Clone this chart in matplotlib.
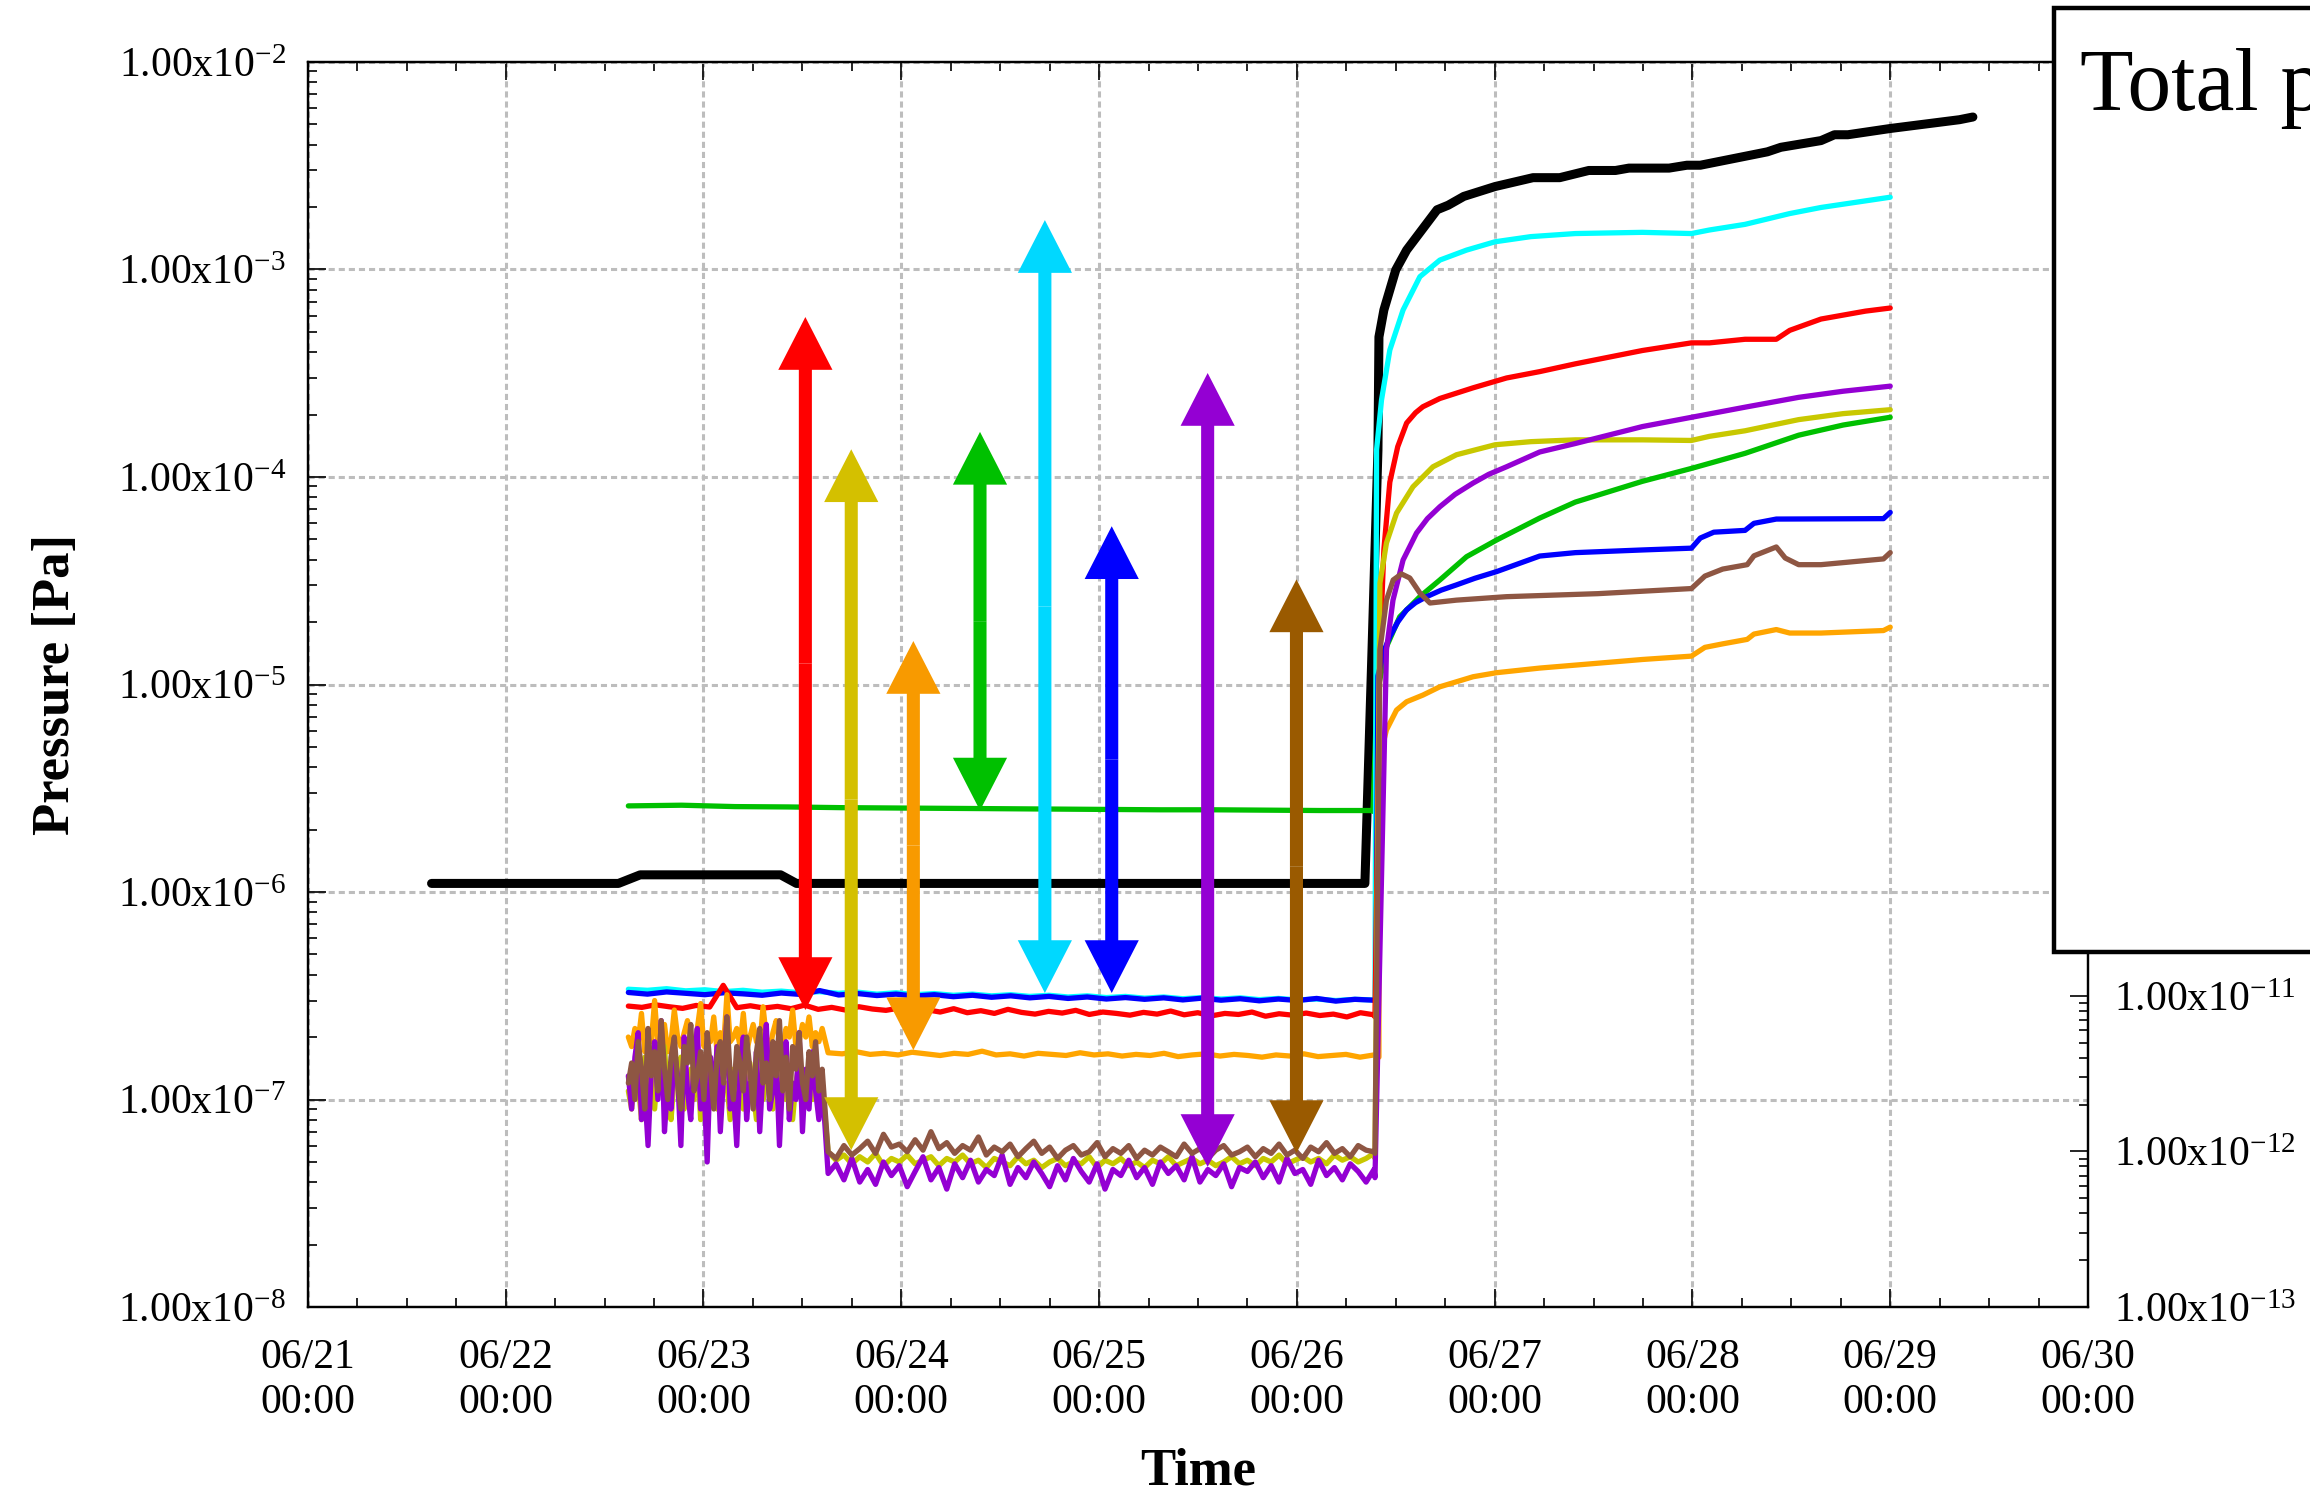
"""
Pressure history during the bake-out / venting test (06/21 - 06/30).

Left axis: pressure of each gas species + total pressure (log).
Right axis: second log scale (mostly hidden behind the legend box).
Arrows mark the rise of each species between the quiet and vented state.
"""

import numpy as np
import pandas as pd
import matplotlib
matplotlib.use("Agg")
import matplotlib.pyplot as plt
import matplotlib.dates as mdates
from matplotlib.patches import FancyArrowPatch, Rectangle
from matplotlib.ticker import FuncFormatter, LogLocator, NullFormatter

T0 = pd.Timestamp("2023-06-21 00:00")

# ── data: times are days after 06/21 00:00 ─────────────────────────────────
NOISY_T = (1.62, 2.60)      # scattered readings right after start
QUIET_T = (2.63, 5.39)      # settled readings before the jump
FLAT_T = (1.62, 5.39)       # species that were stable the whole time

total_t = [0.625, 1.57, 1.68, 2.39, 2.47, 5.344, 5.38, 5.41, 5.415, 5.44,
           5.50, 5.555, 5.709, 5.765, 5.844, 6.002, 6.194, 6.329, 6.476,
           6.611, 6.679, 6.882, 6.972, 7.040, 7.379, 7.447, 7.650, 7.718,
           7.786, 8.000, 8.350, 8.418]
total_p = [1.10e-6, 1.10e-6, 1.21e-6, 1.21e-6, 1.10e-6, 1.10e-6, 1.47e-5,
           1.35e-4, 4.73e-4, 6.38e-4, 9.95e-4, 1.24e-3, 1.94e-3, 2.04e-3,
           2.25e-3, 2.51e-3, 2.77e-3, 2.77e-3, 3.00e-3, 3.00e-3, 3.08e-3,
           3.08e-3, 3.18e-3, 3.18e-3, 3.69e-3, 3.88e-3, 4.18e-3, 4.46e-3,
           4.46e-3, 4.78e-3, 5.27e-3, 5.43e-3]

# flat readings (units given per list)
green_flat = [2.60, 2.62, 2.58, 2.57, 2.55, 2.54, 2.53, 2.52, 2.51, 2.50,
              2.49, 2.49, 2.48, 2.47, 2.47]                           # 1e-6
cyan_flat = [3.40, 3.36, 3.42, 3.34, 3.38, 3.31, 3.36, 3.29, 3.33, 3.27,
             3.31, 3.25, 3.29, 3.22, 3.27, 3.20, 3.24, 3.18, 3.22, 3.16,
             3.20, 3.14, 3.18, 3.12, 3.16, 3.10, 3.14, 3.08, 3.12, 3.06,
             3.10, 3.05, 3.09, 3.03, 3.07, 3.02, 3.05, 3.00, 3.04, 3.02]  # 1e-7
blue_flat = [3.28, 3.22, 3.30, 3.25, 3.20, 3.27, 3.23, 3.18, 3.26, 3.21,
             3.35, 3.19, 3.24, 3.17, 3.22, 3.15, 3.20, 3.13, 3.18, 3.11,
             3.16, 3.09, 3.14, 3.07, 3.12, 3.05, 3.10, 3.04, 3.09, 3.02,
             3.08, 3.01, 3.06, 2.99, 3.05, 3.00, 3.07, 2.98, 3.04, 3.01]  # 1e-7
red_flat = [2.82, 2.78, 2.86, 2.80, 2.75, 2.84, 2.79, 3.55, 2.77, 2.83,
            2.76, 2.81, 2.74, 2.85, 2.72, 2.78, 2.70, 2.80, 2.73, 2.69,
            2.76, 2.66, 2.71, 2.64, 2.74, 2.62, 2.68, 2.60, 2.72, 2.63,
            2.58, 2.66, 2.61, 2.69, 2.57, 2.64, 2.60, 2.55, 2.63, 2.58,
            2.67, 2.56, 2.62, 2.53, 2.60, 2.57, 2.64, 2.52, 2.59, 2.55,
            2.61, 2.54, 2.58, 2.50, 2.62, 2.56]                       # 1e-7

# noisy + quiet readings (1e-8)
orange_noisy = [20, 18, 22, 19, 26, 17, 21, 19, 30, 18, 20, 23, 17, 19, 27,
                20, 18, 21, 24, 19, 17, 22, 29, 18, 20, 19, 25, 17, 21, 18,
                32, 19, 20, 22, 18, 26, 17, 20, 23, 19, 18, 28, 20, 17, 21,
                24, 19, 18, 22, 20, 27, 18, 19, 23, 20, 25, 18, 21, 19, 22]
orange_quiet = [16.8, 16.6, 17.0, 16.5, 16.7, 16.4, 16.9, 16.6, 16.3, 16.7,
                16.5, 17.1, 16.4, 16.6, 16.2, 16.7, 16.5, 16.3, 16.8, 16.4,
                16.6, 16.2, 16.5, 16.3, 16.7, 16.1, 16.4, 16.6, 16.2, 16.5,
                16.3, 16.0, 16.4, 16.2, 16.6, 16.1, 16.3, 16.5, 16.0, 16.4]
yellow_noisy = [11, 9, 14, 12, 8, 16, 10, 13, 9, 15, 11, 18, 10, 8, 13, 12,
                16, 9, 11, 14, 10, 17, 8, 12, 15, 10, 13, 9, 16, 11, 12, 8,
                14, 10, 17, 9, 12, 15, 11, 8, 13, 10, 16, 12, 9, 14, 11, 18,
                10, 13, 8, 12, 15, 9, 11, 14, 10, 13, 9, 12]
yellow_quiet = [5.6, 5.1, 5.4, 4.9, 5.3, 5.0, 5.5, 4.8, 5.2, 5.0, 5.4, 4.9,
                5.1, 5.3, 4.8, 5.2, 5.0, 5.4, 4.9, 5.1, 4.7, 5.2, 5.0, 4.8,
                5.3, 4.9, 5.1, 4.7, 5.0, 5.2, 4.8, 5.0, 4.9, 5.3, 4.7, 5.1,
                4.9, 5.2, 4.8, 5.0, 4.7, 5.1, 4.9, 5.3, 4.8, 5.0, 5.2, 4.9,
                5.1, 4.8, 5.0, 5.3, 4.9, 5.1, 4.8, 5.2, 5.0, 5.4, 4.9, 5.1,
                5.3, 5.0, 5.2, 4.9, 5.4, 5.1, 5.3, 5.0, 5.2, 5.5]
purple_noisy = [13, 9, 16, 21, 8, 11, 6, 14, 19, 10, 24, 7, 12, 9, 17, 13, 6,
                20, 11, 8, 15, 22, 9, 12, 5, 16, 10, 18, 7, 13, 25, 9, 11, 6,
                15, 20, 8, 12, 10, 17, 7, 14, 23, 9, 11, 16, 6, 13, 19, 8, 12,
                10, 21, 7, 14, 9, 17, 11, 8, 12]
purple_quiet = [4.4, 4.9, 4.1, 5.2, 4.0, 4.6, 3.9, 5.0, 4.3, 4.8, 3.8, 4.5,
                5.3, 4.1, 4.7, 3.7, 4.9, 4.2, 5.1, 4.0, 4.6, 4.3, 5.4, 3.9,
                4.7, 4.2, 5.0, 4.4, 3.8, 4.8, 4.1, 5.2, 4.5, 4.0, 4.9, 3.7,
                4.6, 4.3, 5.1, 4.2, 4.7, 3.9, 5.0, 4.4, 4.8, 4.1, 5.3, 4.0,
                4.6, 4.3, 4.9, 3.8, 4.7, 4.5, 5.0, 4.2, 4.8, 4.0, 5.2, 4.4,
                4.6, 3.9, 5.1, 4.3, 4.7, 4.1, 4.9, 4.5, 4.0, 4.6]
brown_noisy = [12, 15, 10, 19, 14, 9, 22, 13, 17, 11, 24, 14, 10, 16, 20, 12,
               9, 18, 15, 23, 11, 13, 17, 10, 21, 14, 9, 16, 19, 12, 25, 13,
               10, 18, 15, 11, 20, 14, 9, 17, 22, 12, 15, 10, 19, 13, 24, 11,
               16, 9, 18, 14, 21, 12, 10, 17, 13, 19, 11, 14]
brown_quiet = [5.6, 5.2, 6.0, 5.4, 5.8, 6.3, 5.5, 6.8, 5.9, 6.1, 5.6, 6.4,
               5.7, 7.0, 5.8, 6.2, 5.5, 6.0, 5.7, 6.6, 5.4, 5.9, 5.6, 6.1,
               5.3, 5.8, 6.3, 5.5, 5.9, 5.2, 5.7, 6.0, 5.4, 5.6, 6.2, 5.3,
               5.8, 5.5, 6.0, 5.2, 5.7, 5.4, 5.9, 5.6, 5.3, 6.1, 5.5, 5.8,
               5.2, 5.7, 6.0, 5.4, 5.6, 5.9, 5.3, 5.8, 5.5, 6.1, 5.4, 5.7,
               5.2, 5.9, 5.6, 6.2, 5.5, 5.8, 5.3, 6.0, 5.7, 5.6]

# readings after the jump (Pa)
green_rise_t = [5.385, 5.405, 5.453, 5.52, 5.622, 5.723, 5.858, 6.01, 6.228,
                6.408, 6.747, 6.995, 7.266, 7.537, 7.762, 8.0]
green_rise_p = [2.45e-6, 9.0e-6, 1.52e-5, 2.12e-5, 2.65e-5, 3.19e-5, 4.13e-5,
                4.97e-5, 6.34e-5, 7.57e-5, 9.53e-5, 1.10e-4, 1.30e-4, 1.59e-4,
                1.78e-4, 1.94e-4]
cyan_rise_t = [5.395, 5.403, 5.428, 5.47, 5.537, 5.622, 5.723, 5.858, 6.002,
               6.183, 6.408, 6.747, 6.995, 7.086, 7.266, 7.492, 7.650, 8.0]
cyan_rise_p = [3.0e-7, 1.35e-4, 2.35e-4, 4.09e-4, 6.38e-4, 9.23e-4, 1.11e-3,
               1.24e-3, 1.36e-3, 1.44e-3, 1.49e-3, 1.51e-3, 1.49e-3, 1.55e-3,
               1.65e-3, 1.86e-3, 1.99e-3, 2.23e-3]
blue_rise_t = [5.40, 5.41, 5.44, 5.47, 5.51, 5.555, 5.60, 5.656, 5.73, 5.807,
               5.90, 6.01, 6.228, 6.408, 6.747, 6.995, 7.040, 7.108, 7.266,
               7.311, 7.424, 7.966, 8.0]
blue_rise_p = [3.0e-7, 1.1e-5, 1.45e-5, 1.70e-5, 2.00e-5, 2.29e-5, 2.48e-5,
               2.65e-5, 2.85e-5, 3.02e-5, 3.25e-5, 3.50e-5, 4.16e-5, 4.32e-5,
               4.45e-5, 4.54e-5, 5.08e-5, 5.42e-5, 5.53e-5, 5.98e-5, 6.27e-5,
               6.30e-5, 6.75e-5]
red_rise_t = [5.395, 5.42, 5.44, 5.47, 5.51, 5.555, 5.60, 5.637, 5.723, 5.891,
              6.06, 6.228, 6.408, 6.747, 6.995, 7.086, 7.266, 7.424, 7.492,
              7.650, 7.875, 8.0]
red_rise_p = [2.5e-7, 1.47e-5, 4.47e-5, 9.44e-5, 1.40e-4, 1.82e-4, 2.04e-4,
              2.18e-4, 2.39e-4, 2.69e-4, 3.00e-4, 3.22e-4, 3.51e-4, 4.07e-4,
              4.43e-4, 4.43e-4, 4.61e-4, 4.61e-4, 5.09e-4, 5.77e-4, 6.30e-4,
              6.52e-4]
orange_rise_t = [5.415, 5.415, 5.428, 5.453, 5.504, 5.555, 5.637, 5.723,
                 5.891, 6.01, 6.228, 6.408, 6.747, 6.995, 7.063, 7.153, 7.277,
                 7.311, 7.424, 7.492, 7.650, 7.966, 8.0]
orange_rise_p = [1.6e-7, 3.58e-6, 4.83e-6, 6.04e-6, 7.53e-6, 8.26e-6, 8.89e-6,
                 9.75e-6, 1.09e-5, 1.14e-5, 1.20e-5, 1.24e-5, 1.32e-5, 1.37e-5,
                 1.51e-5, 1.57e-5, 1.65e-5, 1.75e-5, 1.84e-5, 1.77e-5, 1.77e-5,
                 1.82e-5, 1.89e-5]
yellow_rise_t = [5.395, 5.42, 5.453, 5.504, 5.587, 5.688, 5.807, 6.002, 6.183,
                 6.408, 6.747, 6.995, 7.086, 7.266, 7.537, 7.762, 8.0]
yellow_rise_p = [5.2e-8, 3.08e-5, 4.81e-5, 6.70e-5, 8.97e-5, 1.12e-4, 1.28e-4,
                 1.43e-4, 1.48e-4, 1.51e-4, 1.51e-4, 1.50e-4, 1.57e-4, 1.67e-4,
                 1.89e-4, 2.02e-4, 2.11e-4]
purple_rise_t = [5.395, 5.453, 5.486, 5.537, 5.605, 5.66, 5.723, 5.80, 5.891,
                 5.97, 6.06, 6.228, 6.408, 6.747, 6.995, 7.266, 7.537, 7.762,
                 8.0]
purple_rise_p = [4.2e-8, 1.47e-5, 2.55e-5, 3.98e-5, 5.37e-5, 6.30e-5, 7.19e-5,
                 8.25e-5, 9.35e-5, 1.03e-4, 1.12e-4, 1.32e-4, 1.45e-4, 1.75e-4,
                 1.94e-4, 2.17e-4, 2.42e-4, 2.59e-4, 2.74e-4]
brown_rise_t = [5.395, 5.42, 5.453, 5.487, 5.529, 5.571, 5.622, 5.673, 5.807,
                6.06, 6.521, 6.995, 7.063, 7.153, 7.277, 7.311, 7.424, 7.469,
                7.537, 7.650, 7.966, 8.0]
brown_rise_p = [5.5e-8, 1.47e-5, 2.55e-5, 3.19e-5, 3.41e-5, 3.26e-5, 2.76e-5,
                2.47e-5, 2.55e-5, 2.65e-5, 2.74e-5, 2.90e-5, 3.33e-5, 3.60e-5,
                3.78e-5, 4.17e-5, 4.60e-5, 4.07e-5, 3.78e-5, 3.78e-5, 4.03e-5,
                4.32e-5]

# arrows: (day, bottom, top) in the order red, yellow, orange, green, cyan,
# blue, purple, brown
arrow_day = [2.515, 2.747, 3.061, 3.398, 3.726, 4.064, 4.549, 4.998]
arrow_low = [2.70e-7, 5.71e-8, 1.73e-7, 2.47e-6, 3.26e-7, 3.26e-7, 4.73e-8,
             5.52e-8]
arrow_high = [5.9e-4, 1.36e-4, 1.62e-5, 1.65e-4, 1.73e-3, 5.79e-5, 3.17e-4,
              3.21e-5]
arrow_colors = ["#ff0000", "#d4c000", "#f89a00", "#00c000", "#00d8ff",
                "#0000ff", "#9400d3", "#9a5a00"]

LINE = {"green": "#00c000", "cyan": "#00ffff", "blue": "#0000ff",
        "red": "#ff0000", "orange": "#ffa500", "yellow": "#c8c800",
        "purple": "#9400d3", "brown": "#8e5643"}


def to_dates(days):
    return T0 + pd.to_timedelta(np.asarray(days, dtype=float), unit="D")


def flat_series(vals, unit, rise_t, rise_p):
    t = np.linspace(FLAT_T[0], FLAT_T[1], len(vals))
    return (np.concatenate([t, rise_t]),
            np.concatenate([np.array(vals) * unit, rise_p]))


def noisy_series(noisy, quiet, unit, rise_t, rise_p):
    t1 = np.linspace(NOISY_T[0], NOISY_T[1], len(noisy))
    t2 = np.linspace(QUIET_T[0], QUIET_T[1], len(quiet))
    return (np.concatenate([t1, t2, rise_t]),
            np.concatenate([np.array(noisy) * unit, np.array(quiet) * unit,
                            rise_p]))


def sci_label(v, pos):
    if v <= 0:
        return ""
    e = int(round(np.log10(v)))
    return rf"1.00x10$^{{{e}}}$"


def sci_label_right(v, pos):
    # upper labels sit behind the legend frame
    if v <= 0 or np.log10(v) > -10.5:
        return ""
    return sci_label(v, pos)


plt.rcParams["font.family"] = ["Liberation Serif", "DejaVu Serif"]
plt.rcParams["mathtext.fontset"] = "custom"
plt.rcParams["mathtext.rm"] = "Liberation Serif"
plt.rcParams["mathtext.it"] = "Liberation Serif:italic"

fig = plt.figure(figsize=(23.1, 14.97), dpi=100)
ax = fig.add_axes([0.1333, 0.1269, 0.7706, 0.8317])

# ── series ────────────────────────────────────────────────────────────────
ax.plot(to_dates(total_t), total_p, color="black", lw=6.5,
        solid_capstyle="round", zorder=3)

series = [
    ("green", flat_series(green_flat, 1e-6, green_rise_t, green_rise_p)),
    ("cyan", flat_series(cyan_flat, 1e-7, cyan_rise_t, cyan_rise_p)),
    ("blue", flat_series(blue_flat, 1e-7, blue_rise_t, blue_rise_p)),
    ("red", flat_series(red_flat, 1e-7, red_rise_t, red_rise_p)),
    ("orange", noisy_series(orange_noisy, orange_quiet, 1e-8,
                            orange_rise_t, orange_rise_p)),
    ("yellow", noisy_series(yellow_noisy, yellow_quiet, 1e-8,
                            yellow_rise_t, yellow_rise_p)),
    ("purple", noisy_series(purple_noisy, purple_quiet, 1e-8,
                            purple_rise_t, purple_rise_p)),
    ("brown", noisy_series(brown_noisy, brown_quiet, 1e-8,
                           brown_rise_t, brown_rise_p)),
]
for name, (t, p) in series:
    ax.plot(to_dates(t), p, color=LINE[name], lw=3.8, zorder=4,
            solid_capstyle="round", solid_joinstyle="round")

# ── double arrows (two simple arrows from the log-midpoint) ───────────────
for d, lo, hi, c in zip(arrow_day, arrow_low, arrow_high, arrow_colors):
    x = mdates.date2num(to_dates([d])[0])
    mid = np.sqrt(lo * hi)
    for end in (lo, hi):
        arr = FancyArrowPatch((x, mid), (x, end),
                              arrowstyle="simple,head_length=38,"
                                         "head_width=39,tail_width=9.4",
                              mutation_scale=1, color=c, lw=0,
                              shrinkA=0, shrinkB=0, zorder=5)
        ax.add_patch(arr)

# ── axes ──────────────────────────────────────────────────────────────────
ax.set_yscale("log")
ax.set_ylim(1e-8, 1e-2)
ax.set_xlim(to_dates([0])[0], to_dates([9])[0])

ax.xaxis.set_major_locator(mdates.DayLocator())
ax.xaxis.set_minor_locator(mdates.HourLocator(byhour=[6, 12, 18]))
ax.xaxis.set_major_formatter(mdates.DateFormatter("%m/%d\n%H:%M"))
ax.yaxis.set_major_locator(LogLocator(base=10, numticks=20))
ax.yaxis.set_minor_locator(LogLocator(base=10, subs=np.arange(2, 10),
                                      numticks=20))
ax.yaxis.set_major_formatter(FuncFormatter(sci_label))
ax.yaxis.set_minor_formatter(NullFormatter())

ax.tick_params(which="both", direction="in", top=True, right=True,
               width=1.2, labelsize=30)
ax.tick_params(which="major", length=13)
ax.tick_params(which="minor", length=6.5)
ax.tick_params(axis="y", which="major", pad=16)
ax.tick_params(axis="x", which="major", pad=23)
for lab in ax.get_xticklabels():
    lab.set_linespacing(1.22)

ax.grid(True, which="major", color="#bdbdbd", lw=2.2, ls=(0, (2, 1.3)))
ax.set_axisbelow(True)
for s in ax.spines.values():
    s.set_linewidth(1.6)

ax.set_xlabel("Time", fontsize=38, fontweight="bold")
ax.set_ylabel("Pressure [Pa]", fontsize=38, fontweight="bold")
ax.xaxis.set_label_coords(0.5, -0.113)
ax.yaxis.set_label_coords(-0.128, 0.5)

# ── right-hand log scale ──────────────────────────────────────────────────
ax2 = ax.twinx()
ax2.set_yscale("log")
ax2.set_ylim(1e-13, 1e-5)
ax2.yaxis.set_major_locator(LogLocator(base=10, numticks=20))
ax2.yaxis.set_minor_locator(LogLocator(base=10, subs=np.arange(2, 10),
                                       numticks=20))
ax2.yaxis.set_major_formatter(FuncFormatter(sci_label_right))
ax2.yaxis.set_minor_formatter(NullFormatter())
ax2.tick_params(which="both", direction="in", width=1.2, labelsize=30)
ax2.tick_params(which="major", length=13, pad=19)
ax2.tick_params(which="minor", length=6.5)
for s in ax2.spines.values():
    s.set_linewidth(1.6)

# ── legend frame (runs off the right edge of the figure) ─────────────────
box = Rectangle((0.8892, 0.3641), 0.2, 0.6306, transform=fig.transFigure,
                facecolor="white", edgecolor="black", lw=3.2, zorder=10,
                clip_on=False)
fig.add_artist(box)
fig.text(0.9004, 0.9265, "Total pressure", fontsize=63, va="baseline",
         zorder=11)

fig.savefig("out.png", dpi=100)
